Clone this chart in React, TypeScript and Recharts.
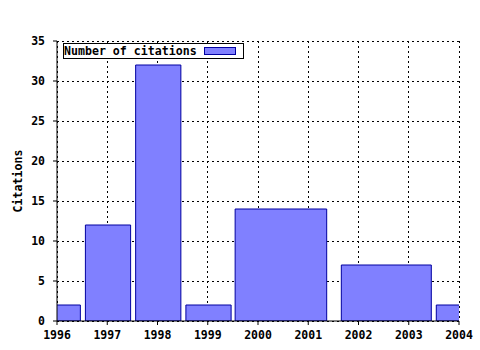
import React from "react";
import {
  ComposedChart,
  XAxis,
  YAxis,
  CartesianGrid,
  ReferenceArea,
  Legend,
} from "recharts";

// Year tick labels on the x axis
const years = [1996, 1997, 1998, 1999, 2000, 2001, 2002, 2003, 2004];
// Citation tick labels on the y axis
const yTicks = [0, 5, 10, 15, 20, 25, 30, 35];
// Bars: start year, end year, number of citations
const barStart = [1995.565, 1996.565, 1997.565, 1998.565, 1999.545, 2001.658, 2003.548];
const barEnd = [1996.465, 1997.465, 1998.465, 1999.465, 2001.367, 2003.449, 2004.465];
const citations = [2, 12, 32, 2, 14, 7, 2];
const seriesName = "Number of citations";

const minorTicks = years
  .flatMap((y) => [y, y + 0.25, y + 0.5, y + 0.75])
  .filter((v) => v <= 2004);

const rows = citations.map((v, i) => ({ x1: barStart[i], x2: barEnd[i], value: v }));

const FONT = "'DejaVu Sans Mono', 'Liberation Mono', monospace";
const FILL = "#8080ff";
const EDGE = "#0000a0";

const tickStyle = { fontFamily: FONT, fontSize: 11.5, fontWeight: 700, fill: "#000" };

function LegendBox() {
  return (
    <div
      style={{
        position: "relative",
        width: 181,
        height: 16,
        boxSizing: "border-box",
        border: "1px solid #000",
        background: "#fff",
      }}
    >
      <span
        style={{
          position: "absolute",
          left: 0,
          top: 0,
          fontFamily: FONT,
          fontWeight: 700,
          fontSize: 11.6,
          lineHeight: "14px",
          color: "#000",
          whiteSpace: "nowrap",
        }}
      >
        {seriesName}
      </span>
      <div
        style={{
          position: "absolute",
          left: 140,
          top: 3,
          width: 32,
          height: 8,
          boxSizing: "border-box",
          background: FILL,
          border: `1px solid ${EDGE}`,
        }}
      />
    </div>
  );
}

const YLabel = (props: any) => {
  const vb = props.viewBox || { x: 0, y: 41, width: 57, height: 280 };
  const cx = vb.x + 18;
  const cy = vb.y + vb.height / 2;
  return (
    <text
      x={cx}
      y={cy}
      transform={`rotate(-90 ${cx} ${cy})`}
      textAnchor="middle"
      dominantBaseline="central"
      style={{ fontFamily: FONT, fontSize: 11.6, fontWeight: 700, fill: "#000" }}
    >
      Citations
    </text>
  );
};

export default function App() {
  return (
    <div style={{ position: "absolute", left: 0, top: 0, background: "#fff" }}>
      <ComposedChart
        width={480}
        height={350}
        data={rows}
        margin={{ top: 41, right: 21, left: 0, bottom: 0 }}
      >
        <CartesianGrid stroke="#000" strokeDasharray="2 3" shapeRendering="crispEdges" />
        <XAxis
          xAxisId="minorB"
          type="number"
          domain={[1996, 2004]}
          ticks={minorTicks}
          tick={false}
          tickSize={2}
          height={0}
          axisLine={false}
          tickLine={{ stroke: "#000" }}
          allowDataOverflow
        />
        <XAxis
          type="number"
          dataKey="x1"
          domain={[1996, 2004]}
          ticks={years}
          allowDataOverflow
          height={29}
          tickSize={4}
          tickMargin={6}
          tick={tickStyle}
          axisLine={{ stroke: "#000" }}
          tickLine={{ stroke: "#000" }}
        />
        <XAxis
          xAxisId="top"
          orientation="top"
          type="number"
          domain={[1996, 2004]}
          ticks={years}
          allowDataOverflow
          height={0}
          mirror
          tick={false}
          tickSize={4}
          axisLine={{ stroke: "#000" }}
          tickLine={{ stroke: "#000" }}
        />
        <XAxis
          xAxisId="minorT"
          orientation="top"
          type="number"
          domain={[1996, 2004]}
          ticks={minorTicks}
          allowDataOverflow
          height={0}
          mirror
          tick={false}
          tickSize={2}
          axisLine={false}
          tickLine={{ stroke: "#000" }}
        />
        <YAxis
          type="number"
          domain={[0, 35]}
          ticks={yTicks}
          allowDataOverflow
          width={57}
          tickSize={4}
          tickMargin={8}
          tick={tickStyle}
          axisLine={{ stroke: "#000" }}
          tickLine={{ stroke: "#000" }}
          label={<YLabel />}
        />
        <YAxis
          yAxisId="right"
          orientation="right"
          type="number"
          domain={[0, 35]}
          ticks={yTicks}
          allowDataOverflow
          width={0}
          mirror
          tick={false}
          tickSize={4}
          axisLine={{ stroke: "#000" }}
          tickLine={{ stroke: "#000" }}
        />
        {rows.map((r, i) => (
          <ReferenceArea
            key={i}
            x1={r.x1}
            x2={r.x2}
            y1={0}
            y2={r.value}
            fill={FILL}
            fillOpacity={1}
            stroke={EDGE}
            strokeWidth={1}
            strokeOpacity={1}
            ifOverflow="hidden"
          />
        ))}
        <Legend
          layout="vertical"
          align="center"
          verticalAlign="middle"
          wrapperStyle={{ left: 63, top: 43, width: 181, height: 16 }}
          content={() => <LegendBox />}
        />
      </ComposedChart>
    </div>
  );
}
